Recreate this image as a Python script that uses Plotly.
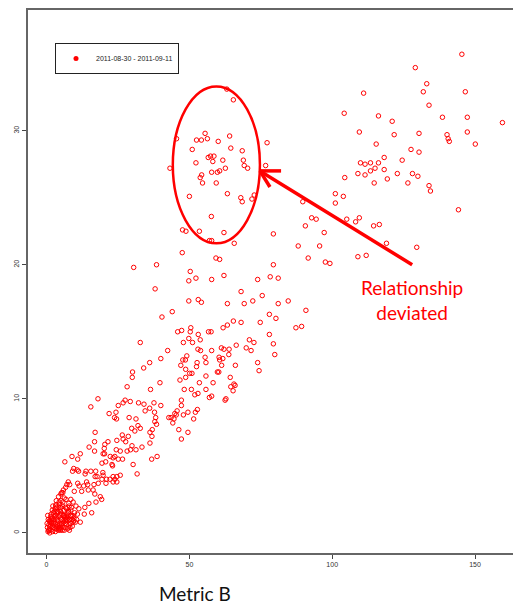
import plotly.graph_objects as go

# ---- data (Metric B on x, Metric A on y) ----
# cluster inside the ellipse (deviated relationship)
dev_b = [63.1,65.4,45.5,55.5,52.5,54.2,56.3,64.1,60.1,51.0,64.5,68.5,77.2,56.6,57.4,58.6,58.2,61.7,68.9,52.3,
         43.2,69.2,70.4,76.7,62.6,57.8,59.8,60.6,54.3,53.8,54.6,59.4,63.3,50.0,68.0,68.5,72.7,71.9,57.7,47.6,
         48.8,53.5,62.1,57.0,57.8,65.7,79.4]
dev_a = [33.1,32.3,29.4,29.8,29.3,29.3,29.4,29.6,29.2,28.6,28.7,28.5,29.1,28.0,28.1,28.1,27.7,27.8,27.8,27.6,
         27.2,27.4,27.2,27.4,27.2,26.9,26.9,27.0,26.7,26.5,26.1,26.1,25.3,25.1,25.0,24.7,25.2,24.9,23.6,22.6,
         22.5,22.5,22.4,21.8,21.8,21.6,22.3]

# upper-right band
high_b = [145.4,129.1,133.1,131.9,146.6,111.0,133.9,104.2,116.2,121.0,138.6,147.3,159.6,109.5,121.7,130.4,140.2,140.6,141.0,147.3,
          150.1,115.4,127.6,130.4,118.2,124.5,109.9,111.5,113.4,116.2,115.0,113.4,118.2,122.8,109.0,111.5,128.1,130.0,104.4,119.3,
          114.7,126.5,133.9,134.4,101.1,103.9,89.7,101.1,144.2,92.8,94.4,105.1,109.5,108.2,90.6,114.5,116.5,97.2,88.1,95.6,
          119.0,129.6,91.6,109.0,111.9,97.6,99.2,79.4]
high_a = [35.7,34.7,33.5,32.9,32.9,32.8,31.9,31.3,31.1,30.7,31.0,31.0,30.6,29.9,29.7,29.8,29.7,29.4,29.2,29.9,
          29.0,29.0,28.6,28.4,28.0,27.8,27.6,27.5,27.6,27.6,27.2,27.0,27.1,26.8,26.8,26.7,26.8,26.6,26.5,26.4,
          26.1,26.1,25.9,25.5,25.3,25.1,24.7,24.6,24.1,23.5,23.4,23.4,23.5,23.2,22.9,22.9,23.0,22.4,21.4,21.4,
          21.6,21.3,20.5,20.6,20.7,20.2,20.1,20.0]

# middle band (y 14-21)
mid_b = [47.5,30.5,38.5,59.3,60.6,50.3,62.1,49.8,52.3,57.8,73.9,78.3,81.1,38.0,68.1,75.5,49.8,53.1,54.2,63.3,
         69.2,72.2,81.1,84.6,90.8,44.0,40.4,78.0,80.3,65.4,68.1,74.8,63.3,61.8,87.3,89.3,50.5,50.3,45.9,47.3,
         53.1,56.7,57.6,78.0,49.8,53.8,47.9,51.1,71.0,72.6,32.8,66.4,79.4]
mid_a = [20.9,19.8,20.0,20.5,20.4,19.5,19.2,18.8,19.0,18.9,18.9,19.1,19.0,18.2,18.0,17.7,17.3,17.4,17.2,17.1,
         17.1,17.3,17.1,17.3,16.6,16.5,16.1,16.3,16.0,15.8,15.7,15.7,15.5,15.3,15.3,15.4,15.3,15.0,15.0,15.1,
         14.8,15.0,15.0,14.8,14.5,14.4,14.2,14.2,14.4,14.2,14.2,14.0,14.1]

# lower-middle band (y 7.5-14)
low_b = [53.0,53.9,57.8,61.2,62.1,63.9,69.9,71.6,42.4,49.1,55.5,63.8,60.4,61.7,60.6,79.9,40.0,47.7,48.6,52.7,
         55.8,36.1,47.0,61.3,66.1,73.9,52.5,34.0,48.7,74.4,50.1,50.9,59.8,60.3,30.1,55.8,30.0,64.3,48.7,46.7,
         53.5,58.3,65.6,66.0,64.5,39.7,28.2,48.2,50.7,55.8,65.3,36.4,53.0,51.9,57.0,57.8,62.5,62.8,47.2,27.5,
         26.8,29.3,32.2,34.1,37.6,40.0,25.1,47.2,34.5,36.1,37.8,45.7,44.9,43.6,52.8,52.1,49.5,47.9,21.9,24.3,
         23.8,24.5,28.9,31.3,38.2,37.9,38.5,42.8,44.6,44.2,51.5,32.0,32.8,29.8,37.0,46.3]
low_a = [13.7,13.6,13.6,13.8,13.7,13.7,13.8,13.6,13.6,13.2,13.1,13.3,13.1,13.0,12.9,13.3,13.0,12.9,12.9,12.7,
         12.7,12.7,12.5,12.5,12.5,12.7,12.4,12.3,12.2,12.1,11.9,11.9,12.0,12.0,12.0,11.7,11.6,11.6,11.6,11.4,
         11.2,11.2,11.1,11.0,10.9,11.2,10.9,10.7,10.7,10.7,10.6,10.7,10.4,10.3,10.1,10.2,9.9,10.0,9.9,9.9,
         9.7,9.8,9.7,9.6,9.7,9.5,9.5,9.5,9.1,9.3,9.0,9.1,8.9,8.6,9.2,9.0,9.0,8.8,8.9,9.0,
         8.6,8.5,8.6,8.5,8.6,8.3,8.1,8.6,8.5,8.2,8.5,8.0,7.8,7.8,7.7,7.7]

# lower band (y 3.8-10)
base_b = [18.0,15.5,45.4,47.2,17.0,30.9,36.2,49.5,16.8,14.9,21.5,24.6,26.5,28.6,26.8,27.7,29.9,36.2,36.9,20.2,
          20.4,24.4,25.8,28.2,29.4,31.3,33.4,16.8,19.8,22.3,23.3,26.6,36.8,38.7,10.9,8.9,6.4,19.4,30.3,9.5,
          10.7,13.8,15.5,17.2,19.7,19.8,22.9,23.1,25.8,31.7,13.5,17.0,17.7,19.4,21.0,22.2,23.3,23.9,23.3,24.6]
base_a = [10.0,9.4,8.8,7.0,7.5,7.6,7.5,7.5,6.8,6.4,6.8,6.9,7.3,7.2,7.0,6.8,6.5,6.7,7.2,6.3,
          6.6,6.2,6.1,6.1,6.2,6.2,6.4,6.1,5.9,5.7,5.6,5.5,5.5,5.7,5.5,5.7,5.3,5.2,5.1,4.8,
          4.7,4.6,4.6,4.6,4.5,4.3,5.1,5.0,4.3,4.4,4.4,4.2,4.2,4.0,4.0,4.0,4.2,4.0,3.8,3.8]

# near-origin points
near_b = [11.8,11.2,9.1,7.6,8.1,7.1,6.7,5.3,10.9,11.4,13.0,14.0,14.4,16.6,18.1,20.8,20.3,23.9,25.1,24.6,
          20.7,5.7,4.4,3.2,3.9,2.6,1.8,1.2,9.7,12.3,14.6,16.3,16.9,18.8,19.3,17.3,14.8,13.4,15.8,13.2,
          11.8,8.5,9.3,10.3,7.9,8.5,7.6,8.8,7.0,6.1]
near_a = [5.9,4.6,4.6,3.8,3.6,3.6,3.4,3.0,3.7,3.5,3.5,3.8,3.6,3.6,3.7,3.7,5.9,5.7,5.5,4.2,
          5.3,3.0,2.3,2.0,1.6,1.4,1.0,0.8,3.1,3.1,3.2,3.2,2.9,2.7,2.5,2.3,2.2,1.9,1.5,1.4,
          0.8,2.5,2.3,2.0,2.0,1.7,1.5,1.2,1.8,1.3]

# dense core at the origin
core_b = [0.5,1.0,1.5,2.0,2.5,3.0,3.5,4.0,4.5,5.0,5.5,6.0,6.5,7.0,7.5,8.0,8.5,0.8,1.3,1.9,
          2.4,3.2,3.8,4.3,4.9,5.4,6.1,6.6,7.2,0.3,1.1,2.1,3.1,4.1,5.1,6.2,7.3,8.2,9.0,9.5,
          2.8,3.6,4.6,5.7,6.8,1.6,0.6,2.2,3.4,4.2,5.0,5.9,7.8,8.7,9.8,10.5,7.7,9.2,0.9,1.7,
          2.7,3.3,4.4,5.2,6.4,2.3,3.9,4.8,5.6,6.3,
          0.2,0.7,1.2,1.8,2.6,3.7,4.7,5.8,6.9,8.4,1.4,2.9,4.0,5.3,6.7,7.9,9.3,0.4,2.0,3.5,
          4.9,6.0,7.4,8.9,10.1,1.0,2.5,3.0,4.5,5.5,6.5,7.0,8.0,9.6,10.8,11.3,3.3,4.4,5.1,6.2]
core_a = [0.1,0.3,0.2,0.5,0.4,0.7,0.3,0.9,0.6,1.0,0.5,0.8,1.1,0.6,0.9,1.0,0.7,0.6,0.9,1.1,
          0.8,1.3,1.5,1.2,1.6,1.4,1.7,1.9,1.4,0.4,0.0,0.1,0.1,0.2,0.3,0.2,0.3,0.4,0.5,0.9,
          1.6,1.9,2.1,2.3,2.5,1.4,1.0,2.0,2.4,2.7,2.9,3.2,2.2,1.9,1.5,1.0,1.6,1.3,0.2,0.7,
          1.2,0.5,0.4,0.6,0.4,1.5,1.0,0.2,2.0,1.2,
          0.7,0.2,0.5,0.8,1.0,0.6,1.4,0.9,1.2,1.3,1.2,0.3,0.5,0.7,0.9,0.6,0.8,1.3,1.7,1.1,
          1.9,1.3,1.1,1.0,0.8,0.9,0.6,1.8,0.3,0.2,0.7,1.0,0.2,1.1,1.4,1.8,2.1,1.7,2.4,2.6]

metric_b = dev_b + high_b + mid_b + low_b + base_b + near_b + core_b
metric_a = dev_a + high_a + mid_a + low_a + base_a + near_a + core_a

x_ticks = [0, 50, 100, 150]
y_ticks = [0, 10, 20, 30]
series_name = "2011-08-30 - 2011-09-11"

RED = "#ff0000"

fig = go.Figure()
fig.add_trace(go.Scatter(
    x=metric_b, y=metric_a, mode="markers", showlegend=False,
    marker=dict(symbol="circle-open", size=4.5, color=RED, line=dict(width=1, color=RED)),
))
# legend entry (filled dot as in the reference legend)
fig.add_trace(go.Scatter(
    x=[None], y=[None], mode="markers", name=series_name,
    marker=dict(symbol="circle", size=5, color=RED),
))

# ellipse around the deviated cluster and arrow pointing to it
fig.add_shape(type="circle", xref="x", yref="y", x0=44.2, x1=74.7, y0=21.6, y1=33.3,
              line=dict(color=RED, width=2.5))
arrow_tip = (74.7, 27.0)
for (x0, y0) in [(128.0, 20.0), (82.1, 27.0), (78.2, 25.8)]:
    fig.add_shape(type="line", xref="x", yref="y", x0=x0, y0=y0, x1=arrow_tip[0], y1=arrow_tip[1],
                  line=dict(color=RED, width=3.5))

fig.add_annotation(text="Relationship<br>deviated", xref="paper", yref="paper",
                   x=0.792, y=0.466, xanchor="center", yanchor="middle", showarrow=False,
                   font=dict(family="Lato, Open Sans, sans-serif", size=19, color=RED))
fig.add_annotation(text="Metric B", xref="paper", yref="paper",
                   x=0.344, y=-0.0755, xanchor="center", yanchor="middle", showarrow=False,
                   font=dict(family="Lato, Open Sans, sans-serif", size=19, color="#111111"))

axis_font = dict(family="Liberation Sans, Arial, sans-serif", size=7, color="#333333")
fig.update_layout(
    width=513, height=605,
    margin=dict(l=28, r=0, t=10, b=52),
    paper_bgcolor="white", plot_bgcolor="white",
    showlegend=True,
    legend=dict(x=0.0557, y=0.939, xanchor="left", yanchor="top",
                bordercolor="#222222", borderwidth=1, bgcolor="white",
                font=dict(family="Liberation Sans, Arial, sans-serif", size=7, color="#222222"),
                itemwidth=30),
    xaxis=dict(range=[-6.5, 163.3], tickvals=x_ticks, ticks="outside", ticklen=4,
               tickcolor="#444444", tickfont=axis_font, showgrid=False, zeroline=False,
               showline=True, linecolor="#666666", linewidth=1.5, mirror=True),
    yaxis=dict(range=[-1.5, 39.0], tickvals=y_ticks, ticks="outside", ticklen=4,
               tickcolor="#444444", tickfont=axis_font, tickangle=-90, showgrid=False,
               zeroline=False, showline=True, linecolor="#666666", linewidth=1.5),
)

fig.write_html("out.html")
